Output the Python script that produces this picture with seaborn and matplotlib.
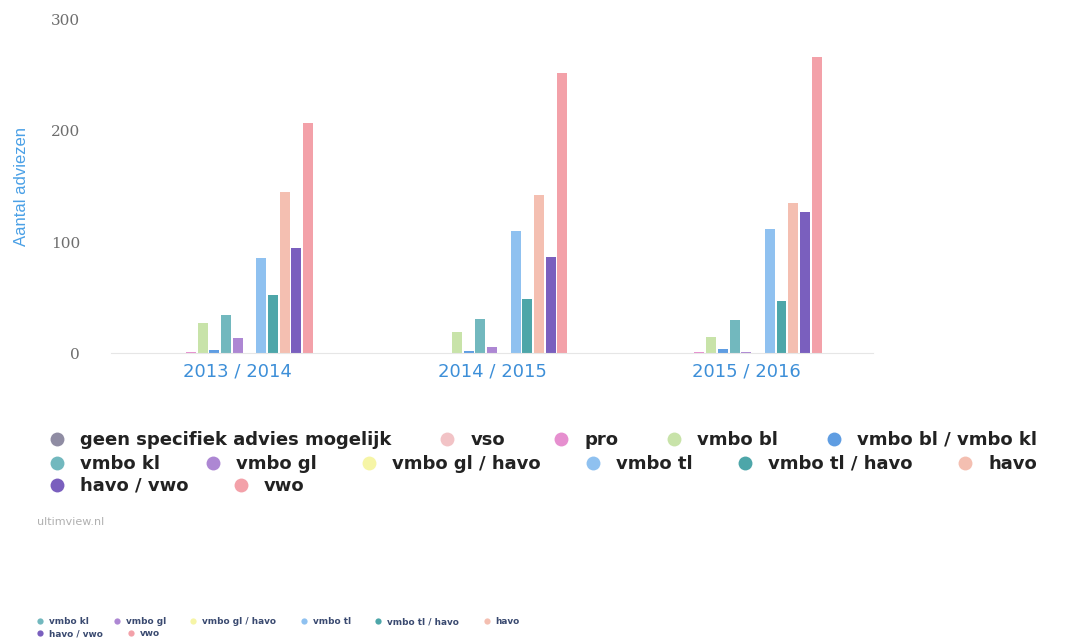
import pandas as pd
import matplotlib.pyplot as plt
import seaborn as sns
from matplotlib.lines import Line2D

# schooljaren en adviescategorieen
years = ["2013 / 2014", "2014 / 2015", "2015 / 2016"]
categories = ["geen specifiek advies mogelijk", "vso", "pro", "vmbo bl",
              "vmbo bl / vmbo kl", "vmbo kl", "vmbo gl", "vmbo gl / havo",
              "vmbo tl", "vmbo tl / havo", "havo", "havo / vwo", "vwo"]

# aantal adviezen per categorie, per schooljaar
vals_1314 = [0, 0, 1, 27, 3, 34, 14, 0, 86, 52, 145, 95, 207]
vals_1415 = [0, 0, 0, 19, 2, 31, 6, 0, 110, 49, 142, 87, 252]
vals_1516 = [0, 0, 1, 15, 4, 30, 1, 0, 112, 47, 135, 127, 267]

colors = ["#8f8ca3", "#f2c3c6", "#e68fcf", "#c8e3a9", "#5f9de2", "#72b8be",
          "#ad87d3", "#f6f5a6", "#8fc1f0", "#4da6a9", "#f4bfb1", "#7a5fbe",
          "#f3a1a9"]
palette = dict(zip(categories, colors))

rows = []
for year, vals in zip(years, [vals_1314, vals_1415, vals_1516]):
    for cat, v in zip(categories, vals):
        rows.append({"jaar": year, "advies": cat, "aantal": v})
df = pd.DataFrame(rows)

sns.set_style("white")
plt.rcParams['font.family'] = ['DejaVu Sans']

fig = plt.figure(figsize=(10.85, 6.41), dpi=100)
ax = fig.add_axes([0.102, 0.449, 0.703, 0.52])

sns.barplot(data=df, x="jaar", y="aantal", hue="advies", order=years,
            hue_order=categories, palette=palette, width=0.6, gap=0.15,
            saturation=1, linewidth=0, legend=False, ax=ax)

ax.set_xlim(-0.5, 2.5)
ax.set_ylim(0, 300)
ax.set_yticks([0, 100, 200, 300])
ax.set_yticklabels(["0", "100", "200", "300"], family="DejaVu Serif",
                   fontsize=11, color="#6e6e6e")
ax.tick_params(axis="y", length=0, pad=22)
ax.tick_params(axis="x", length=0, pad=7)
for lab in ax.get_xticklabels():
    lab.set_color("#3d8fd8")
    lab.set_fontsize(13)
ax.set_xticks([-0.5, 0.5, 1.5, 2.5], minor=True)
ax.tick_params(axis="x", which="minor", length=5, color="#e4e4e4", width=1)

ax.set_xlabel("")
ax.set_ylabel("")
for s in ["top", "right", "left"]:
    ax.spines[s].set_visible(False)
ax.spines["bottom"].set_color("#e6e6e6")

fig.text(22 / 1085, 1 - 186 / 641, "Aantal adviezen", rotation=90,
         color="#4aa0e6", fontsize=12, ha="center", va="center",
         family=["Liberation Sans", "DejaVu Sans"])

# legenda in drie regels, zoals in het origineel
legend_rows = [categories[0:5], categories[5:11], categories[11:13]]
row_y = [1 - 440 / 641, 1 - 464 / 641, 1 - 486 / 641]
row_gap = [2.6, 2.4, 2.4]
for items, y, gap in zip(legend_rows, row_y, row_gap):
    handles = [Line2D([], [], marker="o", linestyle="", markersize=10,
                      markerfacecolor=palette[c], markeredgewidth=0, label=c)
               for c in items]
    leg = fig.legend(handles=handles, loc="center left",
                     bbox_to_anchor=(48 / 1085, y), ncol=len(items),
                     frameon=False, handlelength=1.0, handletextpad=0.78,
                     columnspacing=gap, borderpad=0, borderaxespad=0,
                     prop={"weight": "bold", "size": 13})
    for t in leg.get_texts():
        t.set_color("#222222")

fig.text(37 / 1085, 1 - 522 / 641, "ultimview.nl", fontsize=8,
         color="#b0b0b0", va="center")

# kleine herhaalde legenda onderaan
small_rows = [categories[5:11], categories[11:13]]
small_y = [1 - 622 / 641, 1 - 634 / 641]
for items, y in zip(small_rows, small_y):
    handles = [Line2D([], [], marker="o", linestyle="", markersize=4.5,
                      markerfacecolor=palette[c], markeredgewidth=0, label=c)
               for c in items]
    leg = fig.legend(handles=handles, loc="center left",
                     bbox_to_anchor=(36 / 1085, y), ncol=len(items),
                     frameon=False, handlelength=1.0, handletextpad=0.5,
                     columnspacing=2.6, borderpad=0, borderaxespad=0,
                     prop={"weight": "bold", "size": 6.4})
    for t in leg.get_texts():
        t.set_color("#3a4a70")

fig.savefig("out.png", dpi=100)
